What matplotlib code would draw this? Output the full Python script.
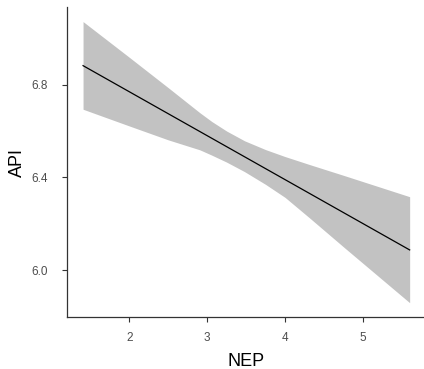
import matplotlib
matplotlib.use("Agg")
import matplotlib.pyplot as plt

# Data
line_x = [1.406, 5.6]
line_y = [6.882, 6.0875]

band_x = [1.406, 2.0, 2.5, 2.906, 3.06, 3.25, 3.48, 3.75, 4.0, 4.32, 4.77, 5.6]
band_upper = [7.072, 6.918, 6.787, 6.679, 6.641, 6.600, 6.558, 6.520, 6.490, 6.455, 6.407, 6.317]
band_lower = [6.694, 6.622, 6.562, 6.519, 6.496, 6.466, 6.425, 6.370, 6.314, 6.224, 6.095, 5.860]

x_ticks = [2, 3, 4, 5]
y_ticks = [6.0, 6.4, 6.8]
y_ticklabels = ["6.0", "6.4", "6.8"]

plt.rcParams['font.family'] = ['Liberation Sans', 'DejaVu Sans']

W, H = 424, 369
fig = plt.figure(figsize=(W / 100, H / 100), dpi=100)
left, right, top, bottom = 66.7, 426.0, 7.2, 317.3
ax = fig.add_axes([left / W, 1 - bottom / H, (right - left) / W, (bottom - top) / H])

ax.fill_between(band_x, band_lower, band_upper, color="#C2C2C2", linewidth=0)
ax.plot(line_x, line_y, color="black", linewidth=0.9)

ax.set_xlim(1.196, 5.81)
ax.set_ylim(5.797, 7.134)
ax.set_xticks(x_ticks)
ax.set_yticks(y_ticks)
ax.set_yticklabels(y_ticklabels)

for s in ["top", "right"]:
    ax.spines[s].set_visible(False)
for s in ["left", "bottom"]:
    ax.spines[s].set_color("#333333")
    ax.spines[s].set_linewidth(0.9)

ax.tick_params(axis="both", which="major", length=3.5, width=0.8, color="#333333",
               labelcolor="#4D4D4D", labelsize=8.5)
ax.tick_params(axis="y", pad=10)
ax.tick_params(axis="x", pad=7)

ax.set_xlabel("NEP", fontsize=13, color="black", va="center")
ax.set_ylabel("API", fontsize=13, color="black", va="center")
ax.xaxis.set_label_coords(0.5, (bottom - 361) / (bottom - top))
ax.yaxis.set_label_coords((17.5 - left) / (right - left), 0.5)

fig.savefig("out.png", dpi=100)
